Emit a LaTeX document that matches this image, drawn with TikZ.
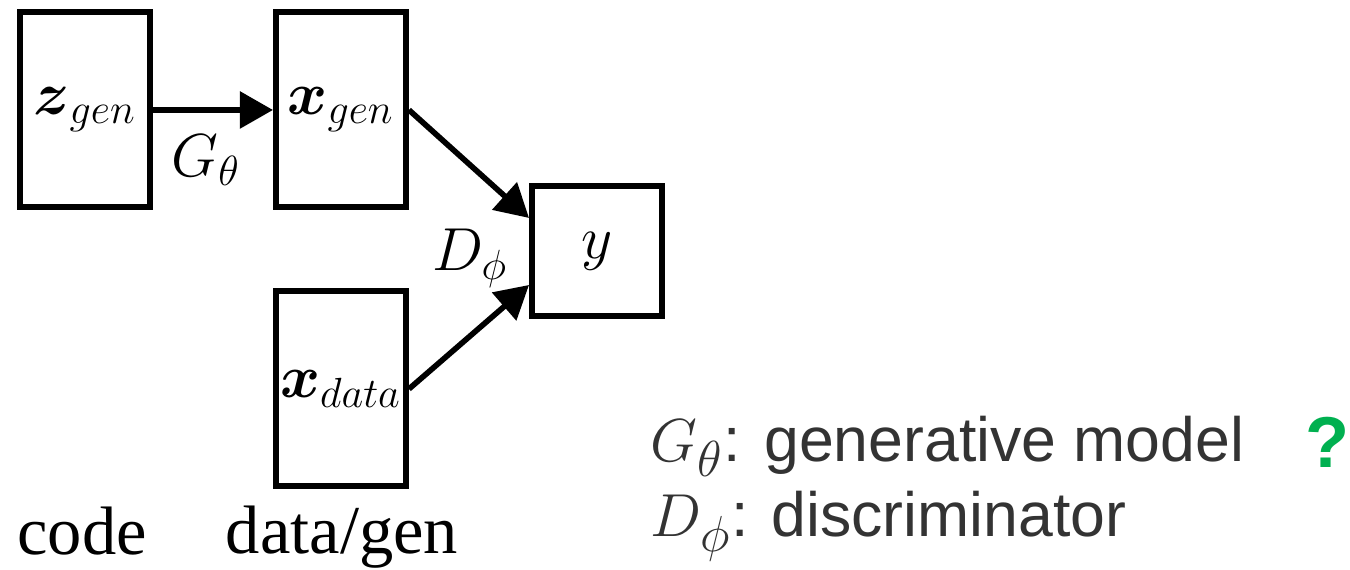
\documentclass[tikz,border=0pt]{standalone}
\usepackage{amsmath,amssymb}
\usepackage{fontspec}
\setmainfont{Liberation Serif}
\newfontfamily\legendfont{Liberation Sans}
\usetikzlibrary{arrows.meta,positioning}
\definecolor{LegendGray}{HTML}{333333}
\definecolor{QGreen}{HTML}{00B050}

\begin{document}
\begin{tikzpicture}[node distance=1.2cm and 1.2cm,
    box/.style={draw,line width=1.7pt,minimum width=1.3cm,minimum height=1.95cm,
                inner sep=0pt,font=\fontsize{18}{21}\selectfont},
    arr/.style={-{Triangle[length=3.3mm,width=3.6mm]},line width=1.6pt},
    lbl/.style={inner sep=0pt,font=\fontsize{17.5}{20}\selectfont},
    caption/.style={anchor=base,inner sep=0pt,font=\fontsize{19.5}{23}\selectfont},
    legend/.style={anchor=base west,inner sep=0pt,text=LegendGray,
                   font=\legendfont\fontsize{17.8}{22}\selectfont}]
    \useasboundingbox (0,0) rectangle (13.5,5.7);
    % generator side
    \node[box] (zgen) at (0.85,4.6) {$\boldsymbol{z}_{gen}$};
    \node[box,right=of zgen] (xgen) {$\boldsymbol{x}_{gen}$};
    \node[box,below=0.78cm of xgen] (xdata) {$\boldsymbol{x}_{data}$};
    % discriminator output
    \node[box,minimum height=1.3cm] (y) at (5.97,3.19) {$y$};
    \draw[arr] (zgen) -- (xgen);
    \draw[arr] (xgen.east) -- ([yshift=.33cm]y.west);
    \draw[arr] (xdata.east) -- ([yshift=-.34cm]y.west);
    \node[lbl] (gtheta) at (2.06,4.10) {$G_\theta$};
    \node[lbl] (dphi) at (4.70,3.12) {$D_\phi$};
    % captions
    \node[caption] (code) at (0.82,0.15) {code};
    \node[caption] (datagen) at (3.42,0.16) {data/gen};
    % legend
    \node[legend] (leggen) at (6.50,1.08) {{\fontsize{19}{22}\selectfont$G_\theta$}: generative model};
    \node[legend] (legdis) at (6.50,0.33) {{\fontsize{19}{22}\selectfont$D_\phi$}: discriminator};
    \node[legend,anchor=base,text=QGreen,font=\legendfont\bfseries\fontsize{20.5}{24}\selectfont]
        (qmark) at (13.27,1.02) {?};
\end{tikzpicture}
\end{document}
